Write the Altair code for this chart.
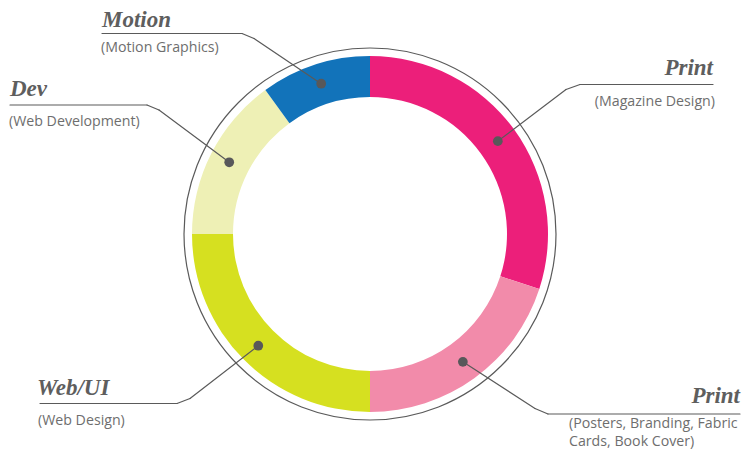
import math
import altair as alt
import pandas as pd

# ---- data ----
keys = ["print_mag", "print_posters", "web", "dev", "motion"]
titles = ["Print", "Print", "Web/UI", "Dev", "Motion"]
subtitles = [
    "(Magazine Design)",
    "(Posters, Branding, Fabric\n Cards, Book Cover)",
    "(Web Design)",
    "(Web Development)",
    "(Motion Graphics)",
]
values = [30, 20, 25, 15, 10]
colors = ["#EC1F7A", "#F28BAA", "#D6E020", "#EEF0B5", "#1273BA"]

# ---- layout (page coordinates) ----
W, H, PAD = 734, 444, 8
CX, CY = 370, 234
R_OUT, R_IN, R_RING, R_DOT = 178, 137, 186, 158
bend_ax = [566, 535, 190, 159, 254]
bend_ay = [89.5, 408.5, 398.5, 110, 38.5]
bend_bx = [580, 548, 177, 147, 242]
line_y = [84.5, 414, 403.5, 105, 33.5]
line_end = [713, 740, 40, 10, 102]
title_x = [713, 740, 37, 10, 102]
title_y = [75, 403, 395, 96, 27]
title_align = ["right", "right", "left", "left", "left"]
sub_x = [715, 569, 38, 9, 101]
sub_y = [101.7, 423.5, 421, 121.7, 48]
sub_align = ["right", "left", "left", "left", "left"]

df = pd.DataFrame({
    "key": keys, "title": titles, "sub": subtitles, "value": values,
    "idx": list(range(len(keys))),
    "ax": bend_ax, "ay": bend_ay, "bx": bend_bx, "ly": line_y, "ex": line_end,
    "tx": title_x, "ty": title_y, "talign": title_align,
    "sx": sub_x, "sy": sub_y, "salign": sub_align,
})

xs = alt.Scale(domain=[PAD, PAD + W], nice=False, zero=False)
ys = alt.Scale(domain=[PAD, PAD + H], nice=False, zero=False, reverse=True)

base = alt.Chart(df)

ring = alt.Chart(pd.DataFrame({"a": [0]})).mark_arc(
    radius=R_RING, theta=0, theta2=2 * math.pi, fillOpacity=0,
    stroke="#5a5a5a", strokeWidth=1.2
).encode(x=alt.value(CX - PAD), y=alt.value(CY - PAD))

arcs = base.mark_arc(radius=R_OUT, radius2=R_IN).encode(
    theta=alt.Theta("value:Q", stack=True),
    color=alt.Color("key:N", scale=alt.Scale(domain=keys, range=colors), legend=None),
    order=alt.Order("idx:Q"),
    x=alt.value(CX - PAD), y=alt.value(CY - PAD),
)

pos = base.transform_window(
    cum="sum(value)", sort=[alt.SortField("idx")], frame=[None, 0]
).transform_joinaggregate(
    total="sum(value)"
).transform_calculate(
    mid="2*PI*(datum.cum - datum.value/2)/datum.total",
).transform_calculate(
    px=f"{CX} + {R_DOT}*sin(datum.mid)",
    py=f"{CY} - {R_DOT}*cos(datum.mid)",
)

line_style = dict(color="#5a5a5a", strokeWidth=1.2, strokeCap="round")
seg1 = pos.mark_rule(**line_style).encode(
    x=alt.X("px:Q", scale=xs, axis=None), y=alt.Y("py:Q", scale=ys, axis=None),
    x2="ax:Q", y2="ay:Q")
seg2 = base.mark_rule(**line_style).encode(
    x=alt.X("ax:Q", scale=xs, axis=None), y=alt.Y("ay:Q", scale=ys, axis=None),
    x2="bx:Q", y2="ly:Q")
seg3 = base.mark_rule(**line_style).encode(
    x=alt.X("bx:Q", scale=xs, axis=None), y=alt.Y("ly:Q", scale=ys, axis=None),
    x2="ex:Q")

dots = pos.mark_point(filled=True, size=95, color="#58585A", opacity=1).encode(
    x=alt.X("px:Q", scale=xs, axis=None), y=alt.Y("py:Q", scale=ys, axis=None))

title_style = dict(baseline="alphabetic", font="Liberation Serif", fontStyle="italic",
                   fontWeight="bold", fontSize=23, color="#5e5e5e")
sub_style = dict(baseline="middle", font="Open Sans", fontSize=14.2, color="#6e6e6e",
                 lineBreak="\n", lineHeight=18)

layers = [ring, arcs, seg1, seg2, seg3, dots]
for al in ["left", "right"]:
    layers.append(base.transform_filter(f"datum.talign == '{al}'").mark_text(
        align=al, **title_style).encode(
        x=alt.X("tx:Q", scale=xs, axis=None), y=alt.Y("ty:Q", scale=ys, axis=None),
        text="title:N"))
    layers.append(base.transform_filter(f"datum.salign == '{al}'").mark_text(
        align=al, **sub_style).encode(
        x=alt.X("sx:Q", scale=xs, axis=None), y=alt.Y("sy:Q", scale=ys, axis=None),
        text="sub:N"))

chart = alt.layer(*layers).properties(
    width=W, height=H, padding=0, autosize=alt.AutoSizeParams(type="none"),
    background="white"
).configure_view(stroke=None)

chart.save("out.html", embed_options={"renderer": "svg", "actions": False})
